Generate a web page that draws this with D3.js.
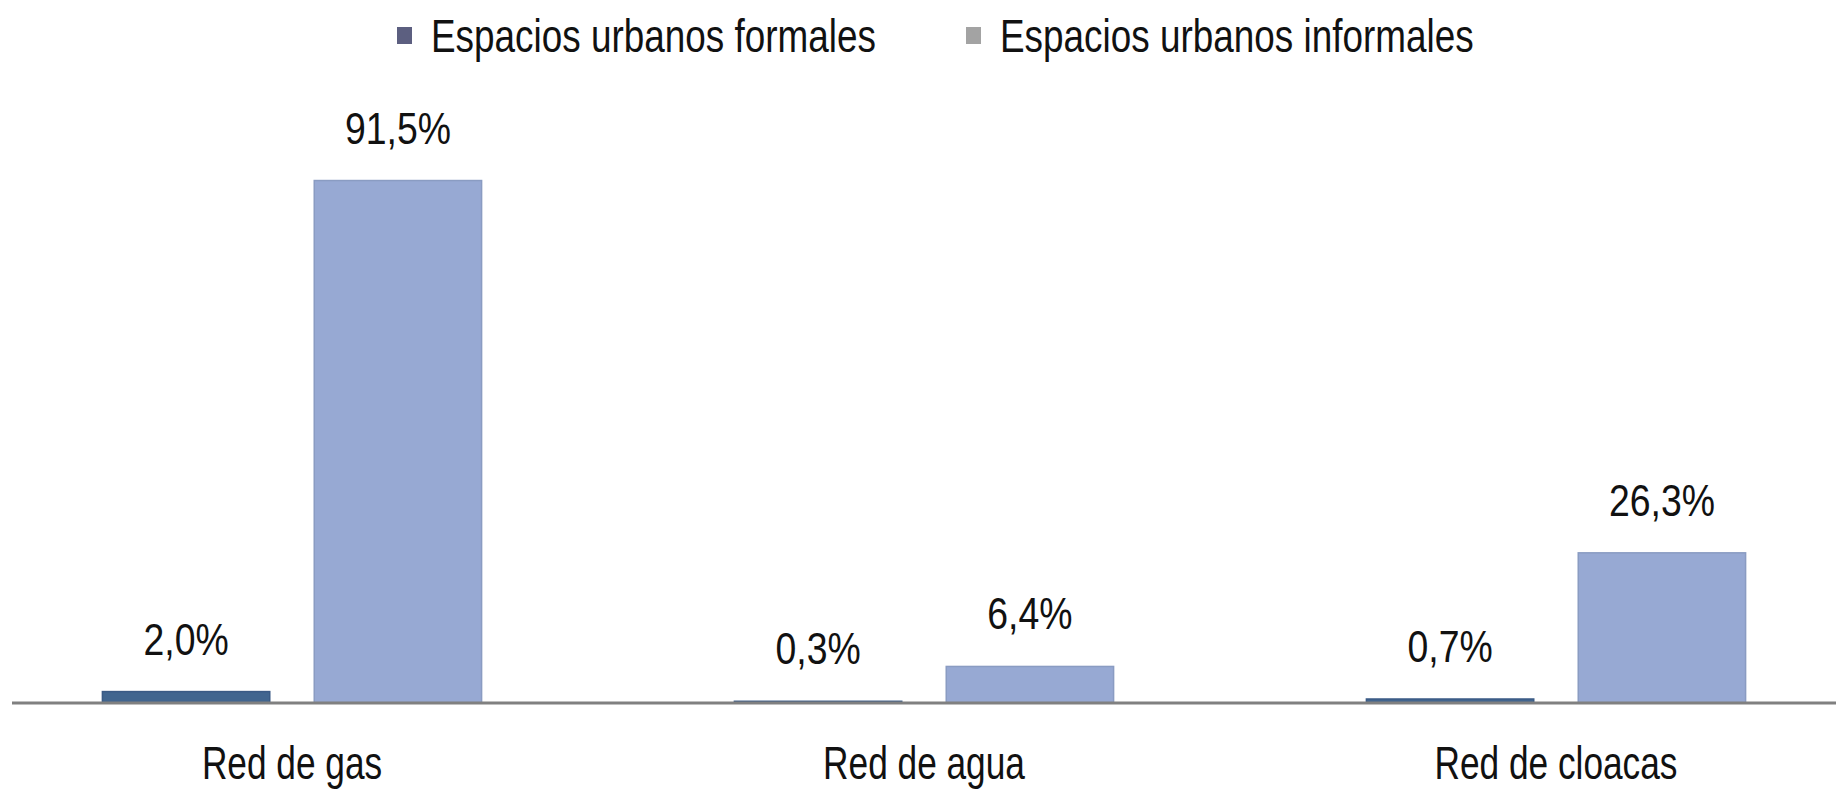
<!DOCTYPE html>
<html>
<head>
<meta charset="utf-8">
<script src="https://cdn.jsdelivr.net/npm/d3@7/dist/d3.min.js"></script>
<style>
  html, body { margin: 0; padding: 0; background: #ffffff; }
  svg { display: block; }
  text { font-family: "Liberation Sans", Arial, sans-serif; fill: #111; }
</style>
</head>
<body>
<svg id="chart" width="1836" height="791"></svg>
<script>
const categories = ["Red de gas", "Red de agua", "Red de cloacas"];
const seriesNames = ["Espacios urbanos formales", "Espacios urbanos informales"];
const formales = [2.0, 0.3, 0.7];
const informales = [91.5, 6.4, 26.3];
const valueLabels = [["2,0%", "0,3%", "0,7%"], ["91,5%", "6,4%", "26,3%"]];

const W = 1836, H = 791;
const svg = d3.select("#chart");

const axisY = 703;
const x0 = d3.scaleBand().domain(categories).range([-24, 1872]).paddingInner(0.4).paddingOuter(0.2);
const x1 = d3.scaleBand().domain(seriesNames).range([0, x0.bandwidth()]).paddingInner(0.21);
const y = d3.scaleLinear().domain([0, 100]).range([axisY, 132]);

const barFill = ["#41658f", "#97a9d3"];
const barStroke = ["#3a5a85", "#8a9cc2"];
const legendFill = ["#5c5f80", "#a3a3a3"];

const series = [formales, informales];

const groups = svg.append("g").selectAll("g")
  .data(categories)
  .join("g")
  .attr("transform", d => `translate(${x0(d)},0)`);

groups.selectAll("rect")
  .data((c, i) => seriesNames.map((s, k) => ({ s, k, v: series[k][i] })))
  .join("rect")
  .attr("x", d => x1(d.s))
  .attr("width", x1.bandwidth())
  .attr("y", d => y(d.v))
  .attr("height", d => y(0) - y(d.v))
  .attr("fill", d => barFill[d.k])
  .attr("stroke", d => barStroke[d.k])
  .attr("stroke-width", 1.5);

groups.selectAll("text.val")
  .data((c, i) => seriesNames.map((s, k) => ({ s, k, v: series[k][i], label: valueLabels[k][i] })))
  .join("text")
  .attr("class", "val")
  .attr("transform", d => `translate(${x1(d.s) + x1.bandwidth() / 2},${y(d.v) - 37}) scale(0.85,1)`)
  .attr("text-anchor", "middle")
  .attr("font-size", 44)
  .text(d => d.label);

// x axis
const xAxis = d3.axisBottom(x0).tickSize(0).tickPadding(0);
const gx = svg.append("g").attr("transform", `translate(0,${axisY})`).call(xAxis);
gx.select(".domain").remove();
gx.selectAll("text")
  .attr("y", 0)
  .attr("dy", 0)
  .attr("transform", `translate(0,76) scale(0.75,1)`)
  .attr("font-size", 47)
  .style("font-family", '"Liberation Sans", Arial, sans-serif')
  .attr("fill", "#111");
svg.append("line")
  .attr("x1", 12).attr("x2", W)
  .attr("y1", axisY).attr("y2", axisY)
  .attr("stroke", "#808080").attr("stroke-width", 3);

// legend
const legendX = [397, 966];
const lg = svg.append("g").selectAll("g")
  .data(seriesNames)
  .join("g")
  .attr("transform", (d, i) => `translate(${legendX[i]},0)`);
lg.append("rect")
  .attr("x", 0).attr("y", 27).attr("width", 15).attr("height", 17)
  .attr("fill", (d, i) => legendFill[i]);
lg.append("text")
  .attr("transform", `translate(34,52) scale(0.785,1)`)
  .attr("font-size", 47)
  .text(d => d);
</script>
</body>
</html>
